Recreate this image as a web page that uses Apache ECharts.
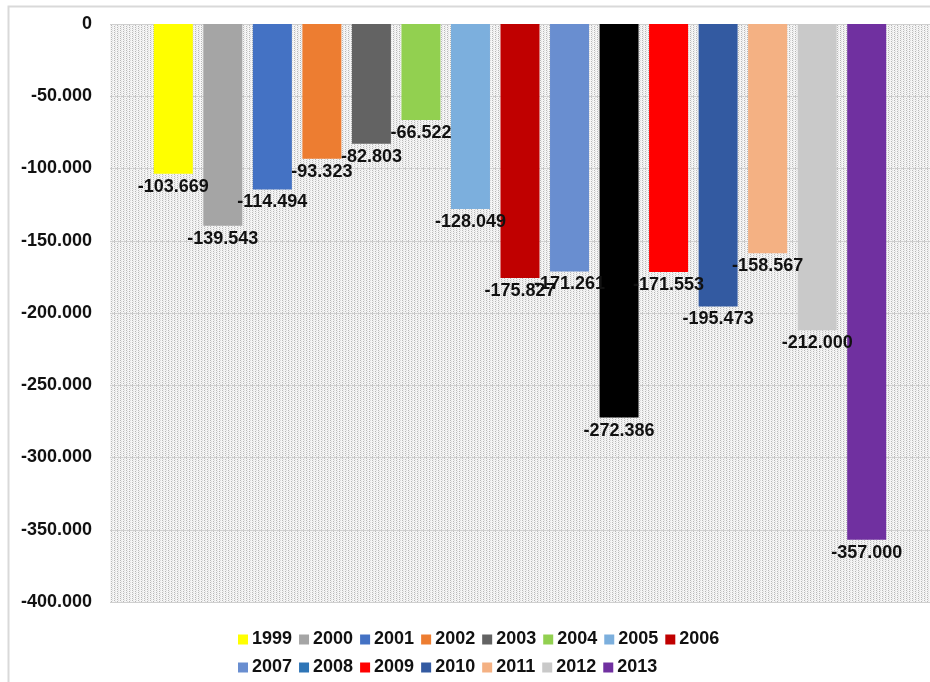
<!DOCTYPE html>
<html>
<head>
<meta charset="utf-8">
<script src="https://cdn.jsdelivr.net/npm/echarts@6/dist/echarts.min.js"></script>
<style>
  html, body { margin: 0; padding: 0; background: #fff; }
  #chart { width: 930px; height: 682px; }
</style>
</head>
<body>
<div id="chart"></div>
<script>
// years and values (thousands, shown with a dot separator)
const years = ['1999', '2000', '2001', '2002', '2003', '2004', '2005', '2006',
  '2007', '2008', '2009', '2010', '2011', '2012', '2013'];
const values = [-103.669, -139.543, -114.494, -93.323, -82.803, -66.522, -128.049, -175.827,
  -171.261, -272.386, -171.553, -195.473, -158.567, -212.000, -357.000];
const legendColors = ['#ffff00', '#a5a5a5', '#4472c4', '#ed7d31', '#636363', '#92d050', '#7cafdd', '#c00000',
  '#698ed0', '#2e75b6', '#ff0000', '#335aa1', '#f4b183', '#c9c9c9', '#7030a0'];
// 2008 bar is drawn black although its legend key stays blue
const barColors = ['#ffff00', '#a5a5a5', '#4472c4', '#ed7d31', '#636363', '#92d050', '#7cafdd', '#c00000',
  '#698ed0', '#000000', '#ff0000', '#335aa1', '#f4b183', '#c9c9c9', '#7030a0'];
const yTicks = { min: -400, max: 0, interval: 50 };

const fmt = v => (v === 0 ? '0' : v.toFixed(3));

// dotted fill like the excel pattern
function makePattern() {
  const c = document.createElement('canvas');
  c.width = 6; c.height = 4;
  const g = c.getContext('2d');
  g.fillStyle = '#f5f5f5';
  g.fillRect(0, 0, 6, 4);
  g.fillStyle = '#b8b8b8';
  [[0, 0], [0, 2], [3, 1], [3, 3]].forEach(([x, y]) => g.fillRect(x, y, 1, 1));
  g.fillStyle = '#dedede';
  [[1, 1], [4, 0], [4, 2], [1, 3]].forEach(([x, y]) => g.fillRect(x, y, 1, 1));
  return c;
}

const font = 'Arial, "Liberation Sans", sans-serif';

const chart = echarts.init(document.getElementById('chart'), null, { renderer: 'canvas' });

const series = years.map((y, i) => ({
  name: y,
  type: 'bar',
  barWidth: 39,
  barGap: '27%',
  itemStyle: { color: legendColors[i] },
  data: [{ value: values[i], itemStyle: { color: barColors[i] } }],
  label: {
    show: true,
    position: 'bottom',
    distance: 4,
    formatter: p => fmt(p.value),
    color: '#111',
    fontSize: 18,
    fontWeight: 'bold',
    fontFamily: font
  }
}));

chart.setOption({
  animation: false,
  backgroundColor: '#fff',
  graphic: [{
    type: 'rect',
    shape: { x: 8.5, y: 6.5, width: 960, height: 720 },
    style: { fill: 'none', stroke: '#d9d9d9', lineWidth: 2 },
    silent: true,
    z: -10
  }],
  grid: {
    show: true,
    left: 110, right: 0, top: 24, height: 578,
    borderWidth: 0,
    backgroundColor: { image: makePattern(), repeat: 'repeat' }
  },
  legend: {
    left: 233, top: 624, width: 512,
    itemWidth: 10, itemHeight: 10, itemGap: 7,
    icon: 'rect',
    textStyle: { fontSize: 18, lineHeight: 21, fontWeight: 'bold', color: '#111', fontFamily: font, padding: [0, 0, 0, -1] },
    data: years
  },
  xAxis: {
    type: 'category',
    data: [''],
    axisLine: { show: false },
    axisTick: { show: false },
    axisLabel: { show: false }
  },
  yAxis: {
    type: 'value',
    min: yTicks.min, max: yTicks.max, interval: yTicks.interval,
    axisLine: { show: false },
    axisTick: { show: false },
    splitLine: { lineStyle: { color: '#cfcfcf', width: 1 } },
    axisLabel: {
      margin: 18,
      formatter: fmt,
      color: '#111',
      fontSize: 18,
      fontWeight: 'bold',
      fontFamily: font
    }
  },
  series: series
});
</script>
</body>
</html>
